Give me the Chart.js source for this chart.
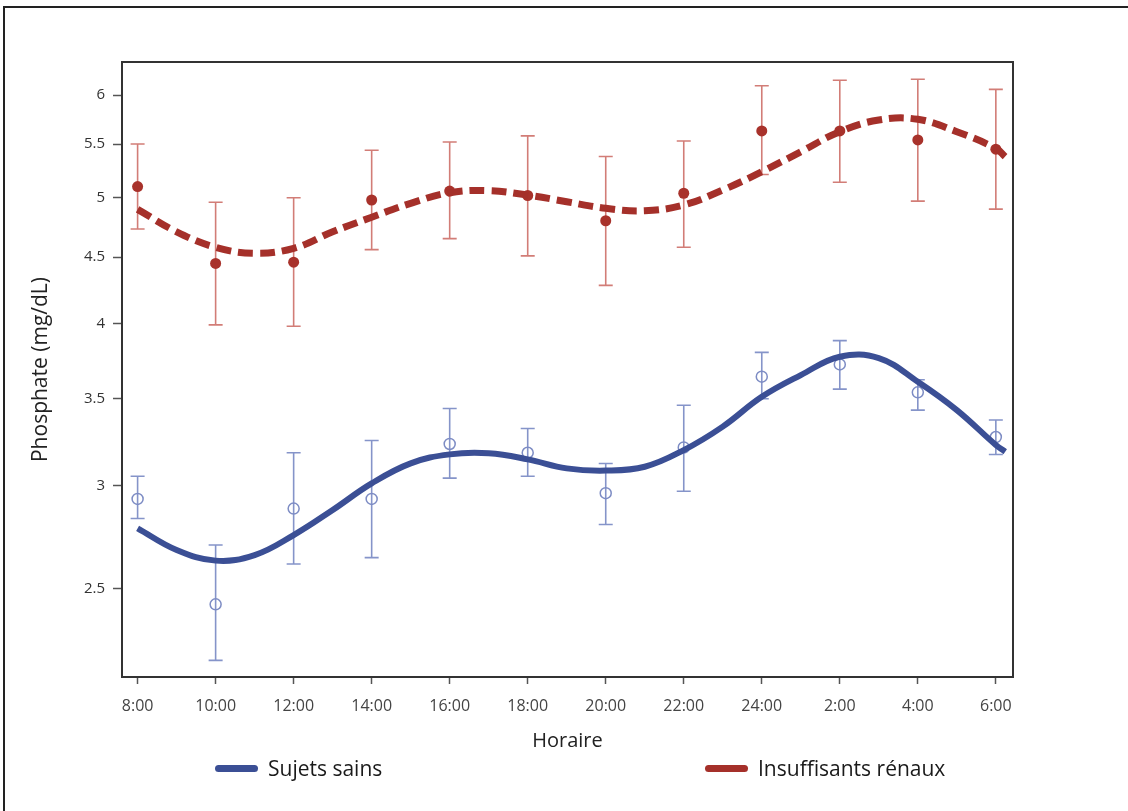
<!DOCTYPE html>
<html>
<head>
<meta charset="utf-8">
<script src="https://cdn.jsdelivr.net/npm/chart.js@4.4.1/dist/chart.umd.min.js"></script>
<style>
  body { margin: 0; background: #fff; }
  #wrap { position: relative; width: 1128px; height: 811px; overflow: hidden; }
  #frameTop { position: absolute; left: 3px; top: 6px; width: 1130px; height: 2px; background: #222; }
  #frameLeft { position: absolute; left: 3px; top: 6px; width: 2px; height: 810px; background: #222; }
  .leg { position: absolute; top: 754px; display: flex; align-items: center; font: 21px "Open Sans", sans-serif; color: #1a1a1a; }
  .leg span.sw { display: inline-block; width: 43px; height: 7px; border-radius: 4px; margin-right: 10px; }
</style>
</head>
<body>
<div id="wrap">
  <canvas id="chart" width="1128" height="811"></canvas>
  <div id="frameTop"></div>
  <div id="frameLeft"></div>
  <div class="leg" style="left:215px"><span class="sw" style="background:#3b4f95"></span>Sujets sains</div>
  <div class="leg" style="left:705px"><span class="sw" style="background:#a5302a"></span>Insuffisants rénaux</div>
</div>
<script>
// Global Variables
const hours = ["8:00", "10:00", "12:00", "14:00", "16:00", "18:00", "20:00", "22:00", "24:00", "2:00", "4:00", "6:00"];
const yTicks = [2.5, 3, 3.5, 4, 4.5, 5, 5.5, 6];

// measured points (mean, lower and upper end of error bar)
const sainsMean = [2.93, 2.43, 2.88, 2.93, 3.23, 3.18, 2.96, 3.21, 3.64, 3.72, 3.54, 3.27];
const sainsLow = [2.83, 2.20, 2.61, 2.64, 3.04, 3.05, 2.80, 2.97, 3.50, 3.56, 3.43, 3.17];
const sainsHigh = [3.05, 2.70, 3.18, 3.25, 3.44, 3.32, 3.12, 3.46, 3.80, 3.88, 3.62, 3.37];
const renauxMean = [5.10, 4.45, 4.46, 4.98, 5.06, 5.02, 4.80, 5.04, 5.63, 5.63, 5.54, 5.45];
const renauxLow = [4.73, 3.99, 3.98, 4.56, 4.65, 4.51, 4.28, 4.58, 5.21, 5.14, 4.97, 4.90];
const renauxHigh = [5.50, 4.96, 5.00, 5.44, 5.52, 5.58, 5.38, 5.53, 6.10, 6.16, 6.17, 6.06];

// fitted curves, every half step
const fitX = [0, 0.5, 1, 1.5, 2, 2.5, 3, 3.5, 4, 4.5, 5, 5.5, 6, 6.5, 7, 7.5, 8, 8.5, 9, 9.5, 10, 10.5, 11, 11.12];
const sainsFit = [2.781, 2.676, 2.626, 2.652, 2.748, 2.873, 3.012, 3.121, 3.171, 3.177, 3.143, 3.093, 3.081, 3.102, 3.195, 3.331, 3.512, 3.650, 3.771, 3.762, 3.607, 3.430, 3.224, 3.186];
const renauxFit = [4.898, 4.707, 4.579, 4.531, 4.571, 4.707, 4.830, 4.951, 5.045, 5.063, 5.024, 4.965, 4.907, 4.886, 4.936, 5.069, 5.236, 5.425, 5.622, 5.740, 5.747, 5.622, 5.458, 5.378];

const blue = "#3b4f95";
const red = "#a5302a";
const font = "'Open Sans', sans-serif";

const toXY = (xs, ys) => xs.map((x, i) => ({ x: x, y: ys[i] }));

// error bars under the curves
const errorBars = {
  id: "errorBars",
  beforeDatasetsDraw(chart) {
    const { ctx, chartArea, scales } = chart;
    const sets = [
      [sainsLow, sainsHigh, "#8594c9"],
      [renauxLow, renauxHigh, "#d27d77"],
    ];
    ctx.save();
    ctx.beginPath();
    ctx.rect(chartArea.left, chartArea.top, chartArea.right - chartArea.left, chartArea.bottom - chartArea.top);
    ctx.clip();
    ctx.lineWidth = 1.6;
    sets.forEach(([lo, hi, col]) => {
      ctx.strokeStyle = col;
      hours.forEach((h, i) => {
        const x = scales.x.getPixelForValue(i);
        const y1 = scales.y.getPixelForValue(lo[i]);
        const y2 = scales.y.getPixelForValue(hi[i]);
        ctx.beginPath();
        ctx.moveTo(x, y1); ctx.lineTo(x, y2);
        ctx.moveTo(x - 7, y1); ctx.lineTo(x + 7, y1);
        ctx.moveTo(x - 7, y2); ctx.lineTo(x + 7, y2);
        ctx.stroke();
      });
    });
    ctx.restore();
  },
  afterDraw(chart) {
    // box around plot area (top and right sides)
    const { ctx, chartArea } = chart;
    ctx.save();
    ctx.strokeStyle = "#333";
    ctx.lineWidth = 2;
    ctx.strokeRect(chartArea.left, chartArea.top, chartArea.right - chartArea.left, chartArea.bottom - chartArea.top);
    ctx.restore();
  },
};

new Chart(document.getElementById("chart"), {
  type: "line",
  data: {
    datasets: [
      {
        label: "Sujets sains",
        data: toXY(fitX, sainsFit),
        borderColor: blue,
        borderWidth: 6,
        pointRadius: 0,
        tension: 0.4,
        order: 0,
      },
      {
        label: "Insuffisants rénaux",
        data: toXY(fitX, renauxFit),
        borderColor: red,
        borderWidth: 7,
        borderDash: [15, 7],
        pointRadius: 0,
        tension: 0.4,
        order: 0,
      },
      {
        label: "sains points",
        data: sainsMean.map((v, i) => ({ x: i, y: v })),
        showLine: false,
        pointRadius: 5.5,
        pointBorderWidth: 1.5,
        pointBorderColor: "#7d8cc4",
        pointBackgroundColor: "rgba(255,255,255,0)",
        order: 1,
      },
      {
        label: "renaux points",
        data: renauxMean.map((v, i) => ({ x: i, y: v })),
        showLine: false,
        pointRadius: 5.5,
        pointBorderWidth: 0,
        pointBackgroundColor: "#a8322b",
        order: 1,
      },
    ],
  },
  options: {
    responsive: false,
    animation: false,
    layout: { padding: { left: 0, top: 62, right: 115, bottom: 58 } },
    plugins: { legend: { display: false }, tooltip: { enabled: false } },
    scales: {
      x: {
        type: "linear",
        min: -0.2,
        max: 11.22,
        afterBuildTicks: (s) => { s.ticks = hours.map((h, i) => ({ value: i })); },
        afterFit: (s) => { s.height = 76; },
        grid: { drawOnChartArea: false, tickLength: 7, tickColor: "#555", tickWidth: 1.5 },
        border: { color: "#333", width: 2 },
        ticks: { padding: 13, color: "#444", font: { family: font, size: 16 }, callback: (v) => hours[v] },
        title: { display: true, text: "Horaire", color: "#222", font: { family: font, size: 20 }, padding: { top: 0, bottom: 0 } },
      },
      y: {
        type: "logarithmic",
        min: 2.136,
        max: 6.362,
        afterBuildTicks: (s) => { s.ticks = yTicks.map((v) => ({ value: v })); },
        afterFit: (s) => { s.width = 122; },
        grid: { drawOnChartArea: false, tickLength: 9, tickColor: "#555", tickWidth: 1.5 },
        border: { color: "#333", width: 2 },
        ticks: { padding: 8, color: "#333", font: { family: font, size: 15 }, callback: (v) => String(v) },
        title: { display: true, text: "Phosphate (mg/dL)", color: "#222", font: { family: font, size: 21 }, padding: { top: 28, bottom: 0 } },
      },
    },
  },
  plugins: [errorBars],
});
</script>
</body>
</html>
